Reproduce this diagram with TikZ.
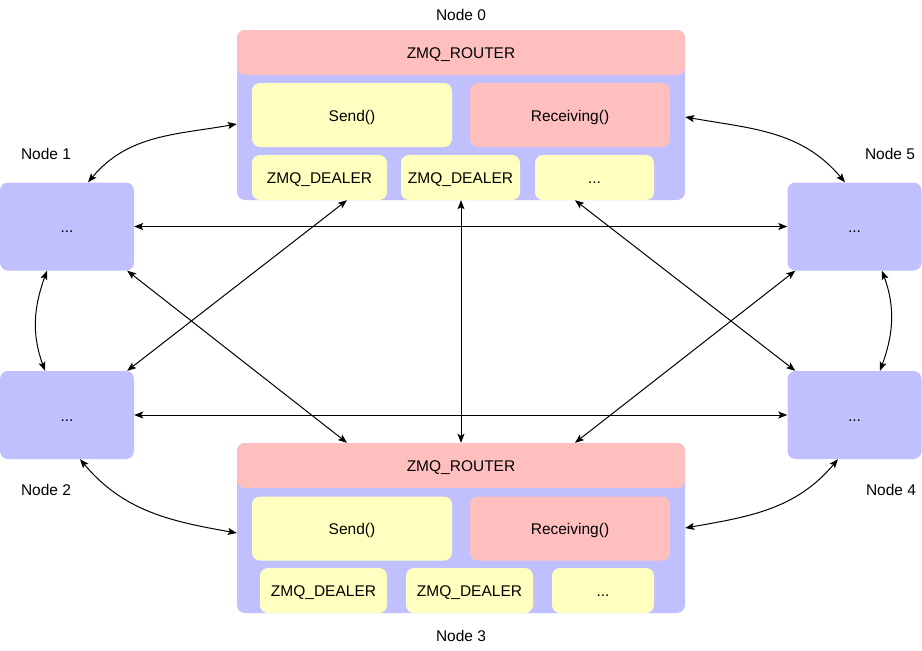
\documentclass[tikz,border=0pt]{standalone}
\usepackage{fontspec}
\setmainfont{Liberation Sans}
\usetikzlibrary{shapes,arrows.meta}

\definecolor{peerBlue}{RGB}{192,192,255}
\definecolor{routerPink}{RGB}{255,191,191}
\definecolor{socketYellow}{RGB}{255,255,192}

\begin{document}
\begin{tikzpicture}[x=1pt,y=1pt,font=\fontsize{15.5}{18}\selectfont,>={Stealth[length=9pt,width=7pt,inset=2pt]}]

\useasboundingbox (0,0) rectangle (922,-651);

\def\peerwidth{448pt}

\tikzstyle{roundBox}=[rectangle,rounded corners=8pt,inner sep=0pt,text height=13pt,text depth=0.4pt]
\tikzstyle{peer}=[roundBox,fill=peerBlue,minimum width=\peerwidth,minimum height=170pt]
\tikzstyle{sidePeer}=[roundBox,fill=peerBlue,minimum width=134pt,minimum height=88pt]
\tikzstyle{router}=[roundBox,fill=routerPink,minimum width=\peerwidth,minimum height=45pt]
\tikzstyle{call}=[roundBox,minimum width=200pt,minimum height=64pt]
\tikzstyle{sendCall}=[call,fill=socketYellow]
\tikzstyle{recvCall}=[call,fill=routerPink]
\tikzstyle{dealer}=[roundBox,fill=socketYellow,minimum height=45pt]
\tikzstyle{link}=[<->,line width=1pt]

%Node Labels
\node (label0) at (461,-15)  {Node 0};
\node (label1) at (46,-154)  {Node 1};
\node (label2) at (46,-490)  {Node 2};
\node (label3) at (461,-636) {Node 3};
\node (label4) at (891,-490) {Node 4};
\node (label5) at (890,-154) {Node 5};

%node 0
\node[peer]     (peer0)    at (461,-115)   {};
\node[router]   (router0)  at (461,-52.5)  {ZMQ\_ROUTER};
\node[sendCall] (send0)    at (352,-115)   {Send()};
\node[recvCall] (recv0)    at (570,-115)   {Receiving()};
\node[dealer,minimum width=135pt] (dealer0a) at (319.5,-177.5) {ZMQ\_DEALER};
\node[dealer,minimum width=119pt] (dealer0b) at (460.5,-177.5) {ZMQ\_DEALER};
\node[dealer,minimum width=119pt] (more0)    at (594.5,-177.5) {...};

%node 3
\node[peer]     (peer3)    at (461,-528)   {};
\node[router]   (router3)  at (461,-465.5) {ZMQ\_ROUTER};
\node[sendCall] (send3)    at (352,-528.5) {Send()};
\node[recvCall] (recv3)    at (570,-528.5) {Receiving()};
\node[dealer,minimum width=127pt] (dealer3a) at (323.5,-590.5) {ZMQ\_DEALER};
\node[dealer,minimum width=127pt] (dealer3b) at (469.5,-590.5) {ZMQ\_DEALER};
\node[dealer,minimum width=102pt] (more3)    at (603,-590.5)   {...};

%side nodes
\node[sidePeer] (peer1) at (67,-226.5)    {...};
\node[sidePeer] (peer2) at (67,-415)      {...};
\node[sidePeer] (peer4) at (854.5,-415)   {...};
\node[sidePeer] (peer5) at (854.5,-226.5) {...};

% curved connections
\draw[link] ([xshift=21pt]peer1.north) to[out=50,in=190] ([yshift=-9pt]peer0.west);
\draw[link] ([xshift=-9.5pt]peer5.north) to[out=130,in=-10] ([yshift=-2pt]peer0.east);
\draw[link] ([xshift=13pt]peer2.south) to[out=-50,in=170] ([yshift=-5pt]peer3.west);
\draw[link] ([xshift=-16.5pt]peer4.south) to[out=-130,in=10] (peer3.east);
\draw[link] ([xshift=-20pt]peer1.south) to[out=-110,in=110] ([xshift=-22pt]peer2.north);
\draw[link] ([xshift=27.5pt]peer5.south) to[out=-70,in=70] ([xshift=25.5pt]peer4.north);

% straight connections
\draw[link] (peer1.east) -- (peer5.west);
\draw[link] (peer2.east) -- (peer4.west);
\draw[link] (peer0.south) -- (router3.north);

\draw[link] ([xshift=-7pt]peer1.south east) -- ([xshift=-114pt]router3.north);
\draw[link] ([xshift=-7pt]peer2.north east) -- ([xshift=27.5pt]dealer0a.south);
\draw[link] ([xshift=-19.5pt]more0.south) -- ([xshift=8pt]peer4.north west);
\draw[link] ([xshift=8pt]peer5.south west) -- ([xshift=114pt]router3.north);

\end{tikzpicture}
\end{document}
